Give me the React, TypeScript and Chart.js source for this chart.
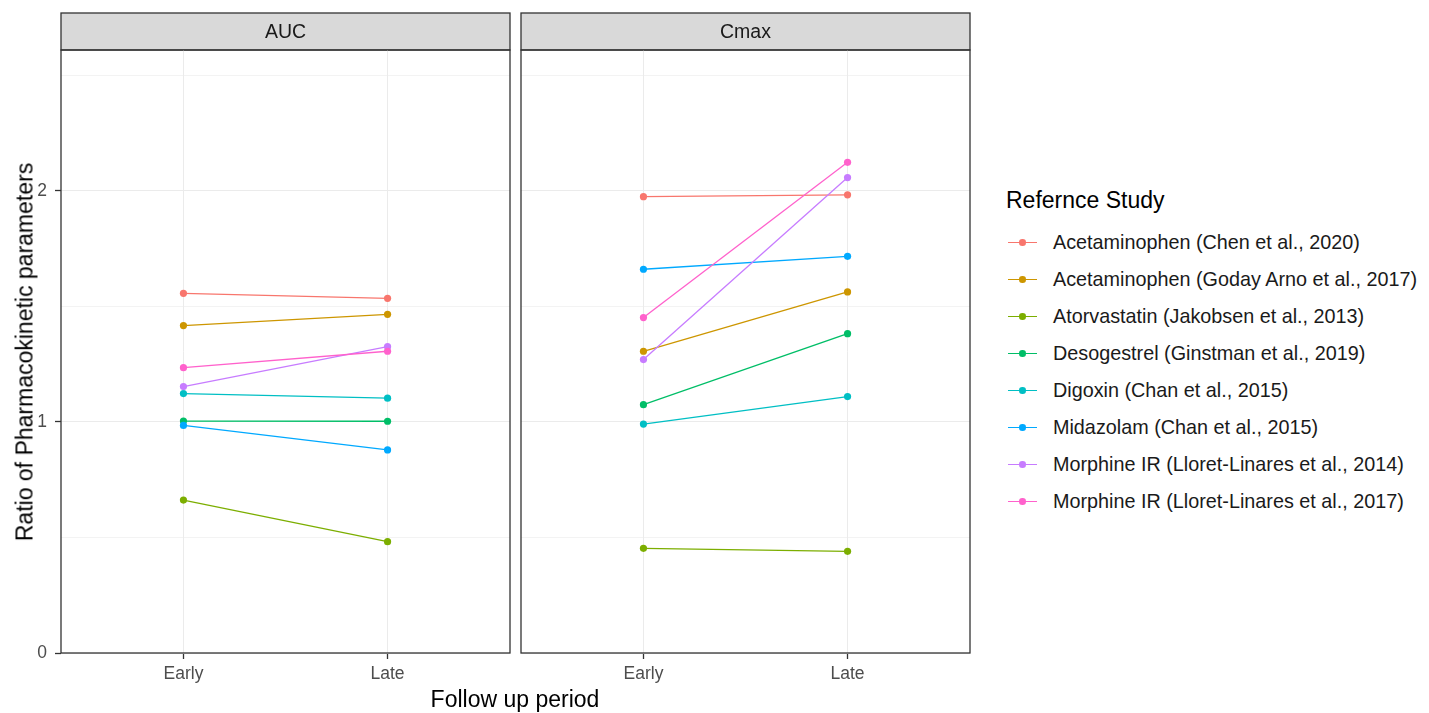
import React, { useEffect, useRef } from "react";
import { Chart, registerables } from "chart.js";

Chart.register(...registerables);

const studies = [
  "Acetaminophen (Chen et al., 2020)",
  "Acetaminophen (Goday Arno et al., 2017)",
  "Atorvastatin (Jakobsen et al., 2013)",
  "Desogestrel (Ginstman et al., 2019)",
  "Digoxin (Chan et al., 2015)",
  "Midazolam (Chan et al., 2015)",
  "Morphine IR (Lloret-Linares et al., 2014)",
  "Morphine IR (Lloret-Linares et al., 2017)",
];
const colors = ["#F8766D", "#CD9600", "#7CAE00", "#00BE67", "#00BFC4", "#00A9FF", "#C77CFF", "#FF61CC"];
const periods = ["Early", "Late"];
const aucEarly = [1.557, 1.417, 0.662, 1.004, 1.123, 0.985, 1.153, 1.235];
const aucLate = [1.535, 1.466, 0.482, 1.003, 1.103, 0.879, 1.326, 1.306];
const cmaxEarly = [1.975, 1.306, 0.453, 1.075, 0.991, 1.661, 1.27, 1.452];
const cmaxLate = [1.983, 1.563, 0.44, 1.382, 1.11, 1.717, 2.058, 2.124];
const yTicks = [0, 0.5, 1, 1.5, 2, 2.5];

const FONT = '"Liberation Sans", Arial, sans-serif';
const STRIP_H = 37;

const panelPlugin = {
  id: "panelDeco",
  beforeDraw(chart: any) {
    const { ctx, chartArea: a } = chart;
    const title = chart.options.plugins.panelDeco.title;
    ctx.save();
    ctx.fillStyle = "#d9d9d9";
    ctx.fillRect(a.left, a.top - STRIP_H, a.right - a.left, STRIP_H);
    ctx.strokeStyle = "#333333";
    ctx.lineWidth = 1.3;
    ctx.strokeRect(a.left, a.top - STRIP_H, a.right - a.left, STRIP_H);
    ctx.fillStyle = "#1a1a1a";
    ctx.font = `19.5px ${FONT}`;
    ctx.textAlign = "center";
    ctx.textBaseline = "middle";
    ctx.fillText(title, (a.left + a.right) / 2, a.top - STRIP_H / 2 + 1);
    ctx.restore();
  },
  afterDraw(chart: any) {
    const { ctx, chartArea: a } = chart;
    ctx.save();
    ctx.strokeStyle = "#333333";
    ctx.lineWidth = 1.3;
    ctx.strokeRect(a.left, a.top, a.right - a.left, a.bottom - a.top);
    ctx.restore();
  },
};

function Panel(props: { title: string; early: number[]; late: number[]; showY: boolean; left: number; width: number }) {
  const ref = useRef<HTMLCanvasElement>(null);
  useEffect(() => {
    const canvas = ref.current!;
    const chart = new Chart(canvas, {
      type: "line",
      data: {
        datasets: studies.map((s, i) => ({
          label: s,
          data: periods.map((p, j) => ({ x: j + 1, y: (j === 0 ? props.early : props.late)[i] })),
          borderColor: colors[i],
          backgroundColor: colors[i],
          pointBackgroundColor: colors[i],
          pointBorderWidth: 0,
          pointRadius: 3.6,
          borderWidth: 1.3,
          tension: 0,
          order: studies.length - i,
        })),
      },
      options: {
        responsive: false,
        animation: false,
        maintainAspectRatio: false,
        layout: { padding: { top: 40, bottom: 0, left: props.showY ? 0 : 10, right: props.showY ? 10 : 11 } },
        plugins: {
          legend: { display: false },
          tooltip: { enabled: false },
          panelDeco: { title: props.title },
        } as any,
        scales: {
          x: {
            type: "linear",
            min: 0.4,
            max: 2.6,
            afterBuildTicks: (s: any) => {
              s.ticks = periods.map((p, j) => ({ value: j + 1 }));
            },
            afterFit: (s: any) => {
              s.height = 60;
            },
            ticks: {
              callback: (v: any) => periods[Math.round(v) - 1] ?? "",
              color: "#4d4d4d",
              font: { family: FONT, size: 17.5 },
              padding: 5,
              maxRotation: 0,
              autoSkip: false,
            },
            grid: { color: "#ebebeb", lineWidth: 1, tickColor: "#333333", tickLength: 6, tickWidth: 1.3 },
            border: { display: false },
          },
          y: {
            type: "linear",
            min: 0,
            max: 2.61,
            afterBuildTicks: (s: any) => {
              s.ticks = yTicks.map((v) => ({ value: v }));
            },
            afterFit: (s: any) => {
              s.width = props.showY ? 61 : 0;
            },
            ticks: {
              display: props.showY,
              callback: (v: any) => (Number.isInteger(v) ? String(v) : ""),
              color: "#4d4d4d",
              font: { family: FONT, size: 17.5 },
              padding: 8,
            },
            grid: {
              color: "#ebebeb",
              lineWidth: (c: any) => (c.tick && Number.isInteger(c.tick.value) ? 1 : 0.6),
              tickColor: (c: any) => (c.tick && Number.isInteger(c.tick.value) ? "#333333" : "rgba(0,0,0,0)"),
              drawTicks: props.showY,
              tickLength: 6,
              tickWidth: 1.3,
            },
            border: { display: false },
          },
        },
      } as any,
      plugins: [panelPlugin],
    });
    return () => chart.destroy();
  }, []);
  return (
    <canvas
      ref={ref}
      width={props.width}
      height={703}
      style={{ position: "absolute", left: props.left, top: 10, width: props.width, height: 703, display: "block" }}
    />
  );
}

export default function App() {
  return (
    <div style={{ position: "fixed", left: 0, top: 0, width: 1429, height: 713, background: "#ffffff", fontFamily: FONT, overflow: "hidden" }}>
      <Panel title="AUC" early={aucEarly} late={aucLate} showY={true} left={0} width={520} />
      <Panel title="Cmax" early={cmaxEarly} late={cmaxLate} showY={false} left={511} width={470} />
      <div
        style={{
          position: "absolute",
          left: 25,
          top: 352,
          transform: "translate(-50%, -50%) rotate(-90deg)",
          whiteSpace: "nowrap",
          fontSize: 23,
          color: "#000",
          lineHeight: 1,
        }}
      >
        Ratio of Pharmacokinetic parameters
      </div>
      <div
        style={{
          position: "absolute",
          left: 515,
          top: 699,
          transform: "translate(-50%, -50%)",
          whiteSpace: "nowrap",
          fontSize: 23,
          color: "#000",
          lineHeight: 1,
        }}
      >
        Follow up period
      </div>
      <div
        style={{
          position: "absolute",
          left: 1006,
          top: 200,
          transform: "translateY(-50%)",
          whiteSpace: "nowrap",
          fontSize: 23,
          color: "#000",
          lineHeight: 1,
        }}
      >
        Refernce Study
      </div>
      {studies.map((s, i) => {
        const cy = 242.7 + 37 * i;
        return (
          <React.Fragment key={s}>
            <div style={{ position: "absolute", left: 1008, top: cy - 0.65, width: 29, height: 1.3, background: colors[i] }} />
            <div
              style={{
                position: "absolute",
                left: 1022.5 - 3.3,
                top: cy - 3.3,
                width: 6.6,
                height: 6.6,
                borderRadius: "50%",
                background: colors[i],
              }}
            />
            <div
              style={{
                position: "absolute",
                left: 1053,
                top: cy,
                transform: "translateY(-50%)",
                whiteSpace: "nowrap",
                fontSize: 19.8,
                color: "#1a1a1a",
                lineHeight: 1,
              }}
            >
              {s}
            </div>
          </React.Fragment>
        );
      })}
    </div>
  );
}
